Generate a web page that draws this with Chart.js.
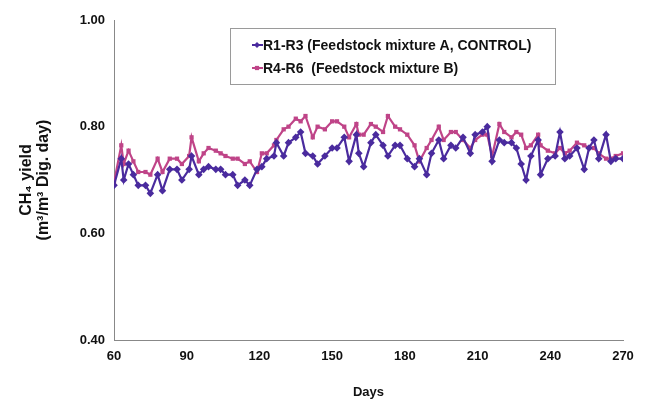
<!DOCTYPE html>
<html>
<head>
<meta charset="utf-8">
<script src="https://cdn.jsdelivr.net/npm/chart.js@4.4.1/dist/chart.umd.min.js"></script>
<style>
  html, body { margin: 0; padding: 0; background: #fff; }
  #wrap { position: relative; width: 648px; height: 404px; }
</style>
</head>
<body>
<div id="wrap"><canvas id="chart" width="648" height="404"></canvas></div>
<script>
const days = [60, 63, 64, 66, 68, 70, 73, 75, 78, 80, 83, 86, 88, 91, 92, 95, 97, 99, 102, 104,
  106, 109, 111, 114, 116, 119, 121, 123, 126, 127, 130, 132, 135, 137, 139, 142, 144, 147, 150, 152,
  155, 157, 160, 161, 163, 166, 168, 171, 173, 176, 178, 181, 184, 186, 189, 191, 194, 196, 199, 201,
  204, 207, 209, 212, 214, 216, 219, 221, 224, 226, 228, 230, 232, 235, 236, 239, 242, 244, 246, 248,
  251, 254, 256, 258, 260, 263, 265, 267, 270];

const r1r3 = [0.69, 0.74, 0.70, 0.73, 0.71, 0.69, 0.69, 0.675, 0.71, 0.68, 0.72, 0.72, 0.70, 0.72, 0.745, 0.71, 0.72, 0.725, 0.72, 0.72,
  0.71, 0.71, 0.69, 0.70, 0.69, 0.72, 0.725, 0.74, 0.745, 0.77, 0.745, 0.77, 0.78, 0.79, 0.75, 0.745, 0.73, 0.745, 0.76, 0.76,
  0.78, 0.735, 0.785, 0.75, 0.725, 0.77, 0.785, 0.765, 0.745, 0.765, 0.765, 0.74, 0.725, 0.74, 0.71, 0.75, 0.775, 0.74, 0.765, 0.76,
  0.78, 0.75, 0.785, 0.79, 0.80, 0.735, 0.775, 0.77, 0.77, 0.76, 0.73, 0.70, 0.745, 0.775, 0.71, 0.74, 0.745, 0.79, 0.74, 0.745,
  0.76, 0.72, 0.76, 0.775, 0.74, 0.785, 0.735, 0.74, 0.74];

const r4r6 = [0.695, 0.765, 0.73, 0.755, 0.735, 0.715, 0.715, 0.71, 0.74, 0.715, 0.74, 0.74, 0.73, 0.745, 0.78, 0.735, 0.75, 0.76, 0.755, 0.75,
  0.745, 0.74, 0.74, 0.73, 0.735, 0.715, 0.75, 0.75, 0.765, 0.775, 0.795, 0.80, 0.815, 0.81, 0.82, 0.78, 0.80, 0.795, 0.81, 0.81,
  0.80, 0.78, 0.805, 0.785, 0.785, 0.805, 0.80, 0.79, 0.82, 0.80, 0.795, 0.785, 0.765, 0.735, 0.76, 0.775, 0.80, 0.775, 0.79, 0.79,
  0.775, 0.76, 0.775, 0.785, 0.785, 0.745, 0.805, 0.79, 0.78, 0.79, 0.785, 0.76, 0.765, 0.785, 0.765, 0.755, 0.75, 0.76, 0.75, 0.755,
  0.77, 0.765, 0.76, 0.76, 0.75, 0.74, 0.74, 0.745, 0.75];

const seriesNames = ["R1-R3 (Feedstock mixture A, CONTROL)", "R4-R6  (Feedstock mixture B)"];
const yTicks = [0.40, 0.60, 0.80, 1.00];
const xTicks = [60, 90, 120, 150, 180, 210, 240, 270];

const BLUE = "#4a2b9e";
const PINK = "#bf4488";
const FONT = "'Liberation Sans', Arial, sans-serif";

function pts(ys) {
  return ys.map((y, i) => ({ x: days[i], y: y }));
}

// legend box drawn inside the plot, like the original
const boxLegend = {
  id: "boxLegend",
  afterDraw(chart) {
    const ctx = chart.ctx;
    const x0 = 230, y0 = 28, w = 325, h = 56;
    ctx.save();
    ctx.fillStyle = "#fff";
    ctx.fillRect(x0, y0, w, h);
    ctx.strokeStyle = "#9a9a9a";
    ctx.lineWidth = 1;
    ctx.strokeRect(x0 + 0.5, y0 + 0.5, w, h);
    ctx.font = "bold 14px " + FONT;
    ctx.textBaseline = "middle";
    chart.data.datasets.forEach((ds, i) => {
      const cy = y0 + 17 + i * 23;
      ctx.strokeStyle = ds.borderColor;
      ctx.lineWidth = 2;
      ctx.beginPath();
      ctx.moveTo(x0 + 22, cy);
      ctx.lineTo(x0 + 33, cy);
      ctx.stroke();
      ctx.fillStyle = ds.borderColor;
      Chart.helpers.drawPoint(ctx, { pointStyle: ds.pointStyle, radius: 3, borderWidth: 0 }, x0 + 27, cy);
      ctx.fillStyle = "#111";
      ctx.fillText(ds.label, x0 + 33, cy + 1);
    });
    ctx.restore();
  }
};

new Chart(document.getElementById("chart"), {
  type: "line",
  data: {
    datasets: [
      {
        label: seriesNames[0], data: pts(r1r3),
        borderColor: BLUE, backgroundColor: BLUE, borderWidth: 2.2,
        pointStyle: "rectRot", pointRadius: 3.8, pointBorderWidth: 0, tension: 0
      },
      {
        label: seriesNames[1], data: pts(r4r6),
        borderColor: PINK, backgroundColor: PINK, borderWidth: 2.2,
        pointStyle: "rect", pointRadius: 3, pointBorderWidth: 0, tension: 0
      }
    ]
  },
  options: {
    responsive: false,
    animation: false,
    layout: { padding: { top: 20, right: 25, left: 14, bottom: 0 } },
    plugins: { legend: { display: false }, tooltip: { enabled: false } },
    scales: {
      x: {
        type: "linear", min: 60, max: 270,
        afterBuildTicks: s => { s.ticks = xTicks.map(v => ({ value: v })); },
        afterFit: s => { s.height = 64; },
        grid: { display: false, drawTicks: true, tickLength: 5, color: "#888" },
        border: { color: "#888", width: 1 },
        ticks: { color: "#111", font: { family: FONT, size: 13, weight: "bold" }, padding: 4 },
        title: { display: true, text: "Days", color: "#111", font: { family: FONT, size: 13, weight: "bold" }, padding: { top: 20 } }
      },
      y: {
        min: 0.4, max: 1.0,
        afterBuildTicks: s => { s.ticks = yTicks.map(v => ({ value: v })); },
        afterFit: s => { s.width = 100; },
        grid: { display: false, drawTicks: true, tickLength: 5, color: "#888" },
        border: { color: "#888", width: 1 },
        ticks: { color: "#111", font: { family: FONT, size: 13, weight: "bold" }, padding: 4, callback: v => v.toFixed(2) },
        title: { display: true, text: ["CH\u2084 yield", "(m\u00b3/m\u00b3 Dig. day)"], color: "#111", font: { family: FONT, size: 16, weight: "bold", lineHeight: 1.05 }, padding: { bottom: 0 } }
      }
    }
  },
  plugins: [boxLegend]
});
</script>
</body>
</html>
